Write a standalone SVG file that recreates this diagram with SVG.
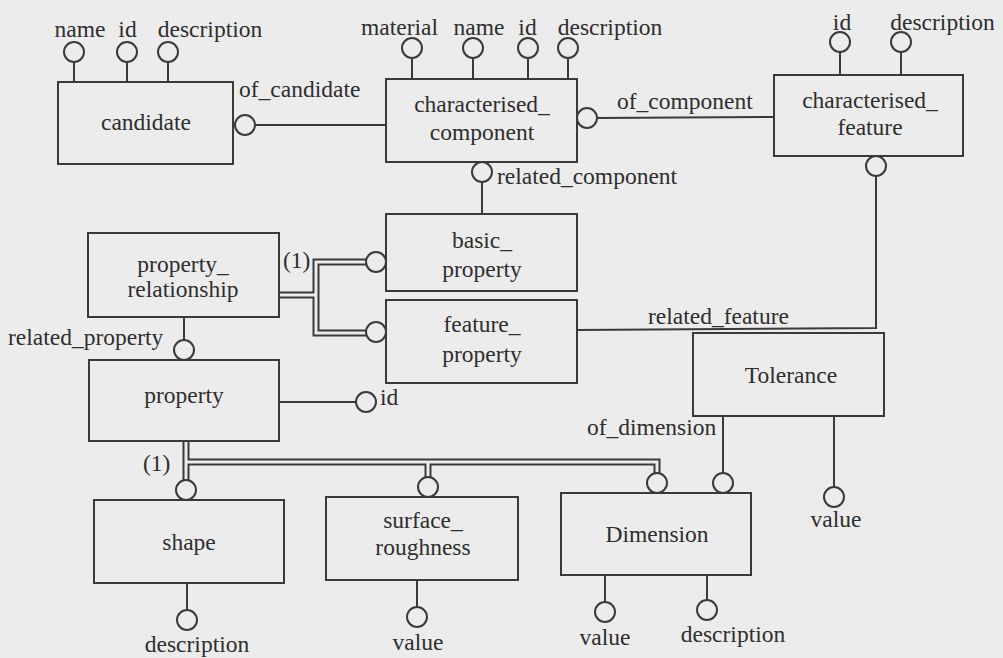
<svg xmlns="http://www.w3.org/2000/svg" width="1003" height="658" viewBox="0 0 1003 658">
  <style>
    .bg { fill: #ececec; }
    .box { fill: #ececec; stroke: #3a3a3a; stroke-width: 2; }
    .attr { fill: #ececec; stroke: #3a3a3a; stroke-width: 2; }
    .ln { fill: none; stroke: #3a3a3a; stroke-width: 2; }
    .dbl-out { fill: none; stroke: #3a3a3a; stroke-width: 7; stroke-linejoin: miter; }
    .dbl-in { fill: none; stroke: #ececec; stroke-width: 3; stroke-linejoin: miter; }
    .c { text-anchor: middle; }
  </style>
  <rect class="bg" x="0" y="0" width="1003" height="658"/>

  <g font-family="Liberation Serif, serif" font-size="23.5" fill="#2e2e2e">
  <!-- connectors between entities -->
  <g id="connectors">
    <!-- candidate <- characterised_component (of_candidate) -->
    <line class="ln" x1="255" y1="125" x2="386" y2="125"/>
    <!-- characterised_component <- characterised_feature (of_component) -->
    <line class="ln" x1="597" y1="118" x2="774" y2="117"/>
    <!-- basic_property -> characterised_component (related_component) -->
    <line class="ln" x1="482" y1="182" x2="482" y2="214"/>
    <!-- feature_property -> characterised_feature (related_feature) -->
    <polyline class="ln" points="577,330 876,328 876,176"/>
    <!-- property_relationship -> property (related_property) -->
    <line class="ln" x1="184" y1="317" x2="184" y2="340"/>
    <!-- Tolerance -> Dimension (of_dimension) -->
    <line class="ln" x1="723" y1="416" x2="723" y2="473"/>

    <!-- supertype tree: property_relationship -> basic_property / feature_property -->
    <path class="dbl-out" d="M279,295 H316 M366,262 H316 V333 H366"/>
    <path class="dbl-in" d="M279,295 H316 M366,262 H316 V333 H366"/>

    <!-- supertype tree: property -> shape / surface_roughness / Dimension -->
    <path class="dbl-out" d="M186,441 V480 M186,462 H657 V473 M428,462 V477"/>
    <path class="dbl-in" d="M186,441 V480 M186,462 H657 V473 M428,462 V477"/>

    <circle class="attr" cx="245" cy="125" r="10"/>
    <circle class="attr" cx="587" cy="118" r="10"/>
    <circle class="attr" cx="482" cy="172" r="10"/>
    <circle class="attr" cx="876" cy="166" r="10"/>
    <circle class="attr" cx="184" cy="350" r="10"/>
    <circle class="attr" cx="723" cy="483" r="10"/>
    <circle class="attr" cx="376" cy="262" r="10"/>
    <circle class="attr" cx="376" cy="332" r="10"/>
    <circle class="attr" cx="186" cy="490" r="10"/>
    <circle class="attr" cx="428" cy="487" r="10"/>
    <circle class="attr" cx="657" cy="483" r="10"/>

    <text x="239" y="97">of_candidate</text>
    <text x="617" y="109">of_component</text>
    <text x="497" y="184">related_component</text>
    <text x="648" y="324">related_feature</text>
    <text x="8" y="345">related_property</text>
    <text x="587" y="435">of_dimension</text>
    <text x="283" y="268">(1)</text>
    <text x="143" y="471">(1)</text>
  </g>

  <g id="candidate">
    <rect class="box" x="58" y="82" width="175" height="82"/>
    <text class="c" x="146" y="130">candidate</text>
    <line class="ln" x1="74" y1="62" x2="74" y2="82"/>
    <line class="ln" x1="127" y1="62" x2="127" y2="82"/>
    <line class="ln" x1="168" y1="62" x2="168" y2="82"/>
    <circle class="attr" cx="74" cy="52" r="10"/>
    <circle class="attr" cx="127" cy="52" r="10"/>
    <circle class="attr" cx="168" cy="52" r="10"/>
    <text class="c" x="80" y="37">name</text>
    <text class="c" x="127.5" y="37">id</text>
    <text class="c" x="210" y="37">description</text>
  </g>

  <g id="characterised_component">
    <rect class="box" x="386" y="79" width="191" height="83"/>
    <text class="c" x="482" y="112">characterised_</text>
    <text class="c" x="482" y="140">component</text>
    <line class="ln" x1="412" y1="58" x2="412" y2="79"/>
    <line class="ln" x1="473" y1="58" x2="473" y2="79"/>
    <line class="ln" x1="528" y1="58" x2="528" y2="79"/>
    <line class="ln" x1="568" y1="58" x2="568" y2="79"/>
    <circle class="attr" cx="412" cy="48" r="10"/>
    <circle class="attr" cx="473" cy="48" r="10"/>
    <circle class="attr" cx="528" cy="48" r="10"/>
    <circle class="attr" cx="568" cy="48" r="10"/>
    <text class="c" x="399.5" y="35">material</text>
    <text class="c" x="479" y="35">name</text>
    <text class="c" x="527.5" y="35">id</text>
    <text class="c" x="610" y="35">description</text>
  </g>

  <g id="characterised_feature">
    <rect class="box" x="774" y="75" width="189" height="81"/>
    <text class="c" x="870" y="108">characterised_</text>
    <text class="c" x="870" y="135">feature</text>
    <line class="ln" x1="840" y1="52" x2="840" y2="75"/>
    <line class="ln" x1="901" y1="52" x2="901" y2="75"/>
    <circle class="attr" cx="840" cy="42" r="10"/>
    <circle class="attr" cx="901" cy="42" r="10"/>
    <text class="c" x="842" y="30">id</text>
    <text class="c" x="942.5" y="30">description</text>
  </g>

  <g id="basic_property">
    <rect class="box" x="386" y="214" width="191" height="77"/>
    <text class="c" x="482" y="248">basic_</text>
    <text class="c" x="482" y="277">property</text>
  </g>

  <g id="feature_property">
    <rect class="box" x="386" y="300" width="191" height="83"/>
    <text class="c" x="482" y="332">feature_</text>
    <text class="c" x="482" y="362">property</text>
  </g>

  <g id="property_relationship">
    <rect class="box" x="88" y="233" width="191" height="84"/>
    <text class="c" x="183" y="272">property_</text>
    <text class="c" x="183" y="297">relationship</text>
  </g>

  <g id="property">
    <rect class="box" x="89" y="360" width="190" height="81"/>
    <text class="c" x="184" y="403">property</text>
    <line class="ln" x1="279" y1="402" x2="356" y2="402"/>
    <circle class="attr" cx="366" cy="402" r="10"/>
    <text x="380" y="405">id</text>
  </g>

  <g id="tolerance">
    <rect class="box" x="693" y="333" width="191" height="83"/>
    <text class="c" x="791" y="383">Tolerance</text>
    <line class="ln" x1="834" y1="416" x2="834" y2="487"/>
    <circle class="attr" cx="834" cy="497" r="10"/>
    <text class="c" x="836" y="527">value</text>
  </g>

  <g id="shape">
    <rect class="box" x="94" y="500" width="190" height="83"/>
    <text class="c" x="189" y="550">shape</text>
    <line class="ln" x1="187" y1="583" x2="187" y2="610"/>
    <circle class="attr" cx="187" cy="620" r="10"/>
    <text class="c" x="197" y="652">description</text>
  </g>

  <g id="surface_roughness">
    <rect class="box" x="326" y="497" width="192" height="83"/>
    <text class="c" x="423" y="528">surface_</text>
    <text class="c" x="423" y="555">roughness</text>
    <line class="ln" x1="417" y1="580" x2="417" y2="607"/>
    <circle class="attr" cx="417" cy="617" r="10"/>
    <text class="c" x="418" y="650">value</text>
  </g>

  <g id="dimension">
    <rect class="box" x="561" y="493" width="190" height="82"/>
    <text class="c" x="657" y="542">Dimension</text>
    <line class="ln" x1="605" y1="575" x2="605" y2="602"/>
    <line class="ln" x1="707" y1="575" x2="707" y2="600"/>
    <circle class="attr" cx="605" cy="612" r="10"/>
    <circle class="attr" cx="707" cy="610" r="10"/>
    <text class="c" x="605" y="645">value</text>
    <text class="c" x="733" y="642">description</text>
  </g>
  </g>
</svg>
